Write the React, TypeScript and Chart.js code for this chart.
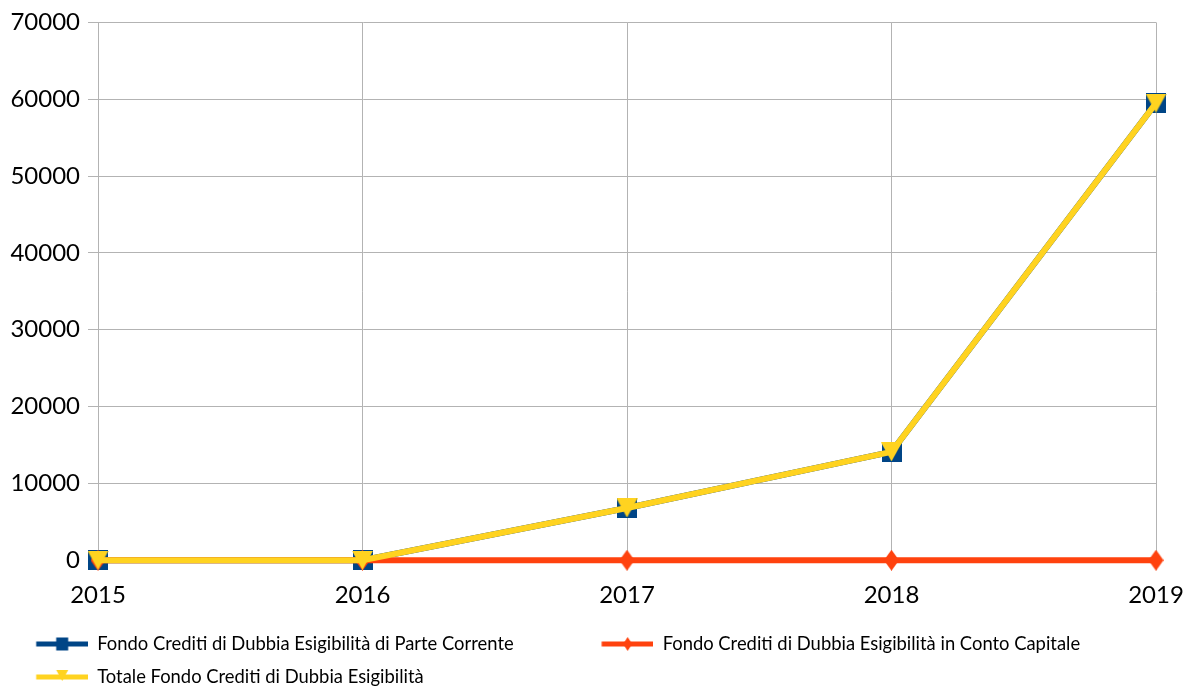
import React, { useEffect, useRef } from "react";
import { Chart, registerables } from "chart.js";

Chart.register(...registerables);

const years: string[] = ["2015", "2016", "2017", "2018", "2019"];
const parteCorrente: number[] = [0, 0, 6800, 14100, 59500];
const contoCapitale: number[] = [0, 0, 0, 0, 0];
const totale: number[] = [0, 0, 6800, 14100, 59500];
const seriesNames: string[] = [
  "Fondo Crediti di Dubbia Esigibilità di Parte Corrente",
  "Fondo Crediti di Dubbia Esigibilità in Conto Capitale",
  "Totale Fondo Crediti di Dubbia Esigibilità",
];
const yMin = 0;
const yMax = 70000;
const yStep = 10000;

const BLUE = "#004586";
const RED = "#ff420e";
const YELLOW = "#ffd320";
const GRID = "#b3b3b3";
const FONT = "Lato";

function makeCanvas(w: number, h: number, draw: (ctx: CanvasRenderingContext2D) => void) {
  const c = document.createElement("canvas");
  c.width = w;
  c.height = h;
  const ctx = c.getContext("2d")!;
  draw(ctx);
  return c;
}

function squareImg(s: number, color: string) {
  return makeCanvas(s, s, (ctx) => {
    ctx.fillStyle = color;
    ctx.fillRect(0, 0, s, s);
  });
}
function diamondImg(w: number, h: number, color: string) {
  return makeCanvas(w, h, (ctx) => {
    ctx.fillStyle = color;
    ctx.beginPath();
    ctx.moveTo(w / 2, 0);
    ctx.lineTo(w, h / 2);
    ctx.lineTo(w / 2, h);
    ctx.lineTo(0, h / 2);
    ctx.closePath();
    ctx.fill();
  });
}
function triangleImg(w: number, h: number, color: string) {
  return makeCanvas(w, h, (ctx) => {
    ctx.fillStyle = color;
    ctx.beginPath();
    ctx.moveTo(0, 0);
    ctx.lineTo(w, 0);
    ctx.lineTo(w / 2, h);
    ctx.closePath();
    ctx.fill();
  });
}

const LEG_FONT = 18.4;
const LEG_PAD = 14.6;
const LEG_W = 73.4;
const LEG_H = 18;
const LEG_BLANK = 21.4;
function legendImg(color: string, kind: "square" | "diamond" | "triangle", blank: number) {
  return makeCanvas(LEG_W, LEG_H, (ctx) => {
    ctx.fillStyle = color;
    ctx.fillRect(blank, LEG_H / 2 - 2.5, LEG_W - blank, 5);
    const cx = blank + (LEG_W - blank) / 2;
    const cy = LEG_H / 2;
    ctx.beginPath();
    if (kind === "square") {
      ctx.rect(cx - 6, cy - 6.5, 12, 13);
    } else if (kind === "diamond") {
      ctx.moveTo(cx, cy - 7);
      ctx.lineTo(cx + 4.5, cy);
      ctx.lineTo(cx, cy + 7);
      ctx.lineTo(cx - 4.5, cy);
    } else {
      ctx.moveTo(cx - 6, cy - 7);
      ctx.lineTo(cx + 6, cy - 7);
      ctx.lineTo(cx, cy + 4);
    }
    ctx.closePath();
    ctx.fill();
  });
}

export default function App() {
  const ref = useRef<HTMLCanvasElement | null>(null);

  useEffect(() => {
    if (!ref.current) return;
    const ptSquare = squareImg(20, BLUE);
    const ptDiamond = diamondImg(15, 21, RED);
    const ptTriangle = triangleImg(21, 19, YELLOW);
    const legImgs = [
      legendImg(BLUE, "square", LEG_BLANK),
      legendImg(RED, "diamond", LEG_BLANK),
      legendImg(YELLOW, "triangle", LEG_BLANK),
    ];
    const colors = [BLUE, RED, YELLOW];
    // trailing spaces only widen the gap between the first and second legend entry
    const legendTexts = [seriesNames[0] + " ".repeat(11), seriesNames[1], seriesNames[2]];
    const tickFont = { family: FONT, size: 24 };

    const chart = new Chart(ref.current, {
      type: "line",
      data: {
        labels: years,
        datasets: [
          {
            label: seriesNames[0],
            data: parteCorrente,
            borderColor: BLUE,
            backgroundColor: BLUE,
            borderWidth: 6,
            pointStyle: ptSquare as any,
            pointRadius: 10,
            tension: 0,
            order: 2,
            clip: false as any,
          },
          {
            label: seriesNames[1],
            data: contoCapitale,
            borderColor: RED,
            backgroundColor: RED,
            borderWidth: 6,
            pointStyle: ptDiamond as any,
            pointRadius: 10,
            tension: 0,
            order: 1,
            clip: false as any,
          },
          {
            label: seriesNames[2],
            data: totale,
            borderColor: YELLOW,
            backgroundColor: YELLOW,
            borderWidth: 6,
            pointStyle: ptTriangle as any,
            pointRadius: 10,
            tension: 0,
            order: 0,
            clip: false as any,
          },
        ],
      },
      options: {
        animation: false,
        responsive: true,
        maintainAspectRatio: false,
        layout: { padding: { top: 22, right: 28, bottom: -9.2, left: 0 } },
        plugins: {
          tooltip: { enabled: false },
          legend: {
            position: "bottom",
            align: "start",
            labels: {
              font: { family: FONT, size: LEG_FONT },
              color: "#000",
              usePointStyle: true,
              pointStyleWidth: LEG_W,
              boxHeight: LEG_FONT,
              padding: LEG_PAD,
              generateLabels: () =>
                legendTexts.map((t, i) => ({
                  text: t,
                  pointStyle: legImgs[i] as any,
                  fillStyle: colors[i],
                  strokeStyle: colors[i],
                  lineWidth: 0,
                  hidden: false,
                  datasetIndex: i,
                  fontColor: "#000",
                })),
            },
          },
        },
        scales: {
          x: {
            grid: { color: GRID, tickLength: 10 },
            border: { color: GRID },
            ticks: { font: tickFont, color: "#000", padding: 11, maxRotation: 0 },
            afterFit: (s: any) => {
              s.height = 60;
              s.paddingRight = 0;
              s.paddingLeft = 0;
            },
          },
          y: {
            min: yMin,
            max: yMax,
            grid: { color: GRID, tickLength: 10 },
            border: { color: GRID },
            ticks: {
              stepSize: yStep,
              font: tickFont,
              color: "#000",
              padding: 8,
              callback: (v: any) => String(v),
            },
            afterFit: (s: any) => {
              s.width = 98;
            },
          },
        },
      },
    });
    return () => chart.destroy();
  }, []);

  return (
    <div style={{ position: "fixed", left: 0, top: 0, width: 1184, height: 687, background: "#fff" }}>
      <canvas ref={ref} />
    </div>
  );
}
